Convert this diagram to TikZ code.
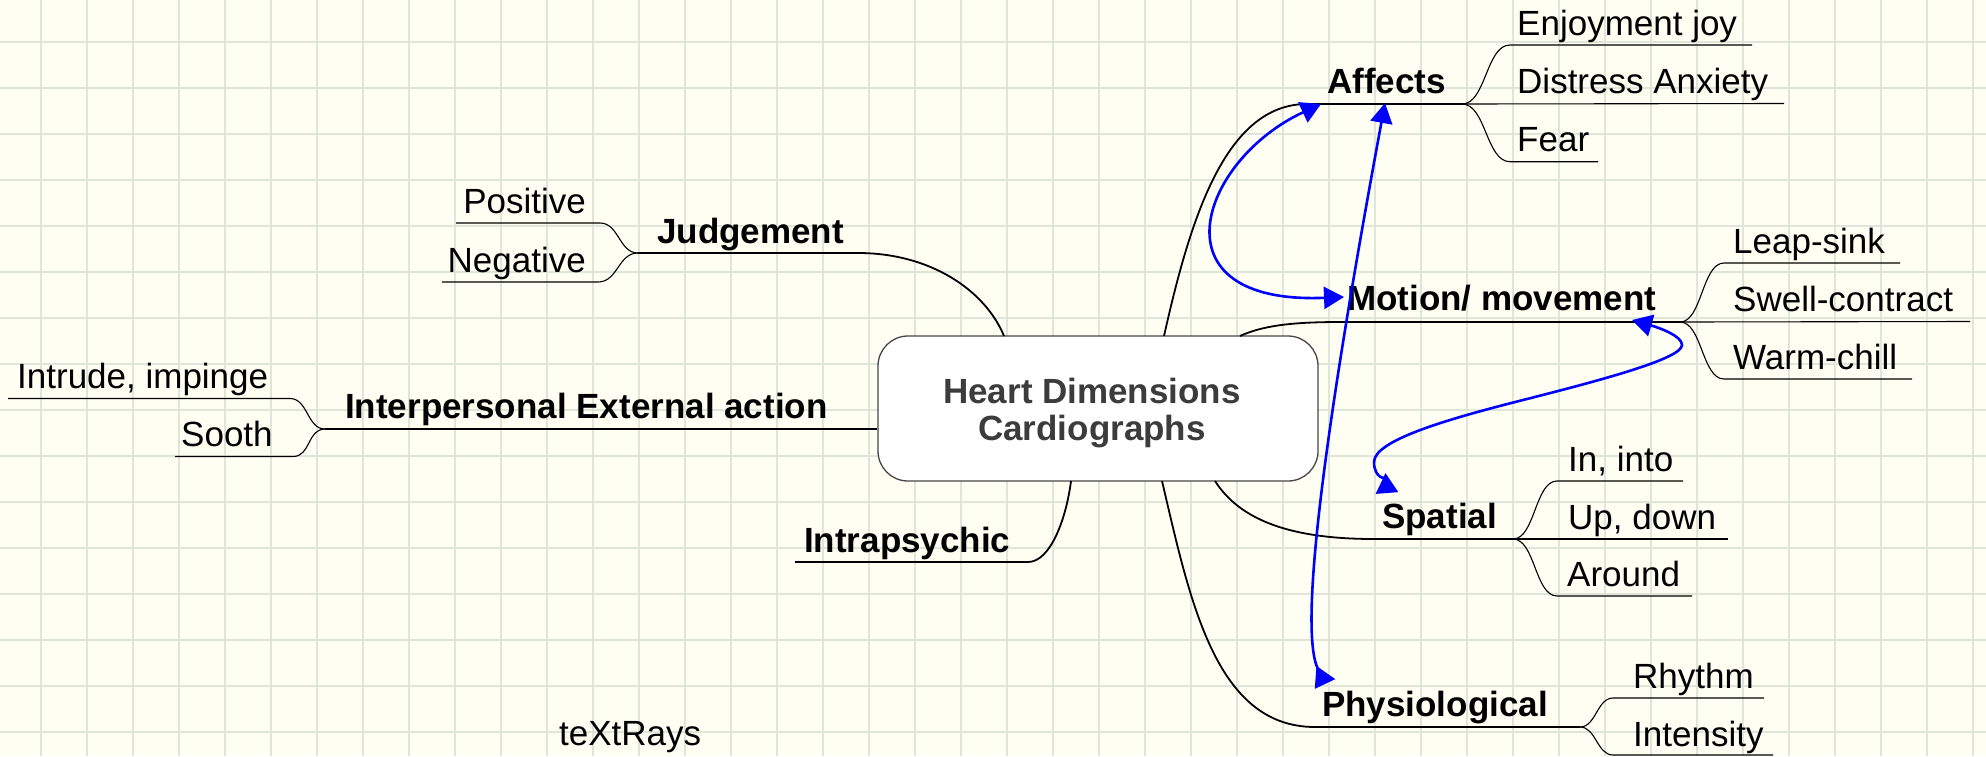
\documentclass[tikz,border=0pt]{standalone}
\usepackage{fontspec}
\setmainfont{Liberation Sans}
\usetikzlibrary{arrows.meta}
\definecolor{bg}{RGB}{254,254,242}
\definecolor{gridc}{RGB}{221,230,216}
\definecolor{hubtext}{RGB}{60,60,60}
\definecolor{hubborder}{RGB}{70,70,70}
\begin{document}
\begin{tikzpicture}[x=1pt,y=-1pt,
  lbl/.style={inner sep=0pt, anchor=base west, font=\fontsize{35}{40}\selectfont},
  topic/.style={inner sep=0pt, anchor=base west, font=\fontsize{35}{40}\selectfont\bfseries},
  hubtxt/.style={inner sep=0pt, anchor=base, text=hubtext, font=\fontsize{35}{40}\selectfont\bfseries},
  mainln/.style={line width=1.8pt},
  uln/.style={line width=1.4pt},
  subln/.style={line width=1.1pt},
  gridln/.style={gridc, line width=1.8pt},
  link/.style={blue, line width=2.6pt},
  tipA/.style={-{Triangle[length=20pt,width=22pt]}},
]
\useasboundingbox (0,0) rectangle (1986,756);
\fill[bg] (0,0) rectangle (1986,756);
\foreach \i in {0,...,42} \draw[gridln] ({41+46*\i},0) -- ({41+46*\i},756);
\foreach \j in {0,...,15} \draw[gridln] (0,{41.7+46*\j}) -- (1986,{41.7+46*\j});

% hub
\node[draw=hubborder, fill=white, line width=1.3pt, rounded corners=30pt,
      minimum width=440pt, minimum height=145pt, inner sep=0pt] (hub) at (1098,408.5) {};
\node[hubtxt] (h1) at (1092,403) {Heart Dimensions};
\node[hubtxt] (h2) at (1092,440) {Cardiographs};

% ---------- Judgement
\coordinate (hJ) at (1004,336);
\coordinate (uJ) at (858,253);
\coordinate (fJ) at (638,253);
\draw[mainln] (hJ) .. controls (985,290) and (930,253) .. (uJ);
\draw[uln] (uJ) -- (fJ);
\node[topic] (tJ) at (657,243) {Judgement};
\coordinate (uPos) at (456,223);
\coordinate (uNeg) at (442,282);
\draw[subln] (fJ) .. controls (619,253) and (619,223) .. (600,223) -- (uPos);
\draw[subln] (fJ) .. controls (618,253) and (618,282) .. (598,282) -- (uNeg);
\node[lbl, anchor=base east] (tPos) at (586,213) {Positive};
\node[lbl, anchor=base east] (tNeg) at (586,272) {Negative};

% ---------- Interpersonal
\coordinate (fI) at (325,429);
\draw[mainln] (fI) -- (fI -| hub.west);
\node[topic] (tI) at (345,418) {Interpersonal External action};
\coordinate (uIn) at (8,398.5);
\coordinate (uSo) at (175,456.5);
\draw[subln] (fI) .. controls (307,429) and (308,398.5) .. (290,398.5) -- (uIn);
\draw[subln] (fI) .. controls (307,429) and (311,456.5) .. (293,456.5) -- (uSo);
\node[lbl] (tIn) at (17,388) {Intrude, impinge};
\node[lbl] (tSo) at (181,446.5) {Sooth};

% ---------- Intrapsychic
\coordinate (hX) at (1071,481);
\coordinate (uX) at (795,562);
\draw[mainln] (hX) .. controls (1066,520) and (1050,562) .. (1028,562) -- (uX);
\node[topic] (tX) at (804,552) {Intrapsychic};

% ---------- Affects
\coordinate (hA) at (1164,336);
\coordinate (uA) at (1307,104);
\coordinate (fA) at (1462,104);
\draw[mainln] (hA) .. controls (1190,220) and (1225,104) .. (uA);
\draw[uln] (uA) -- (fA);
\node[topic] (tA) at (1327,93) {Affects};
\coordinate (uEn) at (1752,45);
\coordinate (uDi) at (1784,103.5);
\coordinate (uFe) at (1598,161.7);
\draw[subln] (fA) .. controls (1486,104) and (1486,45) .. (1510,45) -- (uEn);
\draw[subln] (fA) -- (uDi);
\draw[subln] (fA) .. controls (1486,104) and (1486,161.7) .. (1510,161.7) -- (uFe);
\node[lbl] (tEn) at (1517,35) {Enjoyment joy};
\node[lbl] (tDi) at (1517,93.3) {Distress Anxiety};
\node[lbl] (tFe) at (1517,151.7) {Fear};

% ---------- Motion
\coordinate (hM) at (1240,336);
\coordinate (uM) at (1340,322);
\coordinate (fM) at (1680,322);
\draw[mainln] (hM) .. controls (1262,326) and (1290,322) .. (uM);
\draw[uln] (uM) -- (fM);
\node[topic] (tM) at (1347,310) {Motion/ movement};
\coordinate (uLe) at (1900,263);
\coordinate (uSw) at (1970,321.5);
\coordinate (uWa) at (1912,379);
\draw[subln] (fM) .. controls (1702,322) and (1702,263) .. (1724,263) -- (uLe);
\draw[subln] (fM) -- (uSw);
\draw[subln] (fM) .. controls (1702,322) and (1702,379) .. (1724,379) -- (uWa);
\node[lbl] (tLe) at (1733,253) {Leap-sink};
\node[lbl] (tSw) at (1733,311.5) {Swell-contract};
\node[lbl] (tWa) at (1733,369) {Warm-chill};

% ---------- Spatial
\coordinate (hS) at (1215,481);
\coordinate (uS) at (1374,539);
\coordinate (fS) at (1513,539);
\draw[mainln] (hS) .. controls (1240,520) and (1290,539) .. (uS);
\draw[uln] (uS) -- (fS);
\node[topic] (tS) at (1382,528) {Spatial};
\coordinate (uII) at (1683,481);
\coordinate (uUp) at (1728,539);
\coordinate (uAr) at (1692,596);
\draw[subln] (fS) .. controls (1535,539) and (1535,481) .. (1557,481) -- (uII);
\draw[subln] (fS) -- (uUp);
\draw[subln] (fS) .. controls (1535,539) and (1535,596) .. (1557,596) -- (uAr);
\node[lbl] (tII) at (1568,471.5) {In, into};
\node[lbl] (tUp) at (1568,529) {Up, down};
\node[lbl] (tAr) at (1567,586.5) {Around};

% ---------- Physiological
\coordinate (hP) at (1162,481);
\coordinate (uP) at (1315,727);
\coordinate (fP) at (1580,727);
\draw[mainln] (hP) .. controls (1190,600) and (1215,727) .. (uP);
\draw[uln] (uP) -- (fP);
\node[topic] (tP) at (1322,716) {Physiological};
\coordinate (uRh) at (1764,698);
\coordinate (uInt) at (1773,755);
\draw[subln] (fP) .. controls (1596,727) and (1597,698) .. (1613,698) -- (uRh);
\draw[subln] (fP) .. controls (1596,727) and (1597,755) .. (1613,755) -- (uInt);
\node[lbl] (tRh) at (1633,688) {Rhythm};
\node[lbl] (tInt) at (1633,746) {Intensity};

% ---------- brand
\node[lbl] (brand) at (559,745) {teXtRays};

% ---------- blue links
\coordinate (lA1) at (1321,104);
\coordinate (lM1) at (1344,297);
\draw[link, {Triangle[length=20pt,width=22pt]}-{Triangle[length=20pt,width=22pt]}]
  (lA1) .. controls (1200,160) and (1150,305) .. (lM1);

\coordinate (lA2) at (1385,103);
\coordinate (lP2) at (1325,684);
\draw[link, {Triangle[length=20pt,width=22pt]}-{Triangle[reversed,length=20pt,width=22pt]}]
  (lA2) .. controls (1330,400) and (1297,625) .. (lP2);

\coordinate (lM3) at (1632,320);
\coordinate (lS3) at (1387,493);
\draw[link, {Triangle[length=20pt,width=22pt]}-{Triangle[reversed,length=20pt,width=22pt]}]
  (lM3) .. controls (1660,328) and (1682,336) .. (1682,345)
        .. controls (1682,358) and (1610,378) .. (1523,400)
        .. controls (1450,418.5) and (1374,440) .. (1374,462)
        .. controls (1374,478) and (1386,480) .. (lS3);
\end{tikzpicture}
\end{document}
